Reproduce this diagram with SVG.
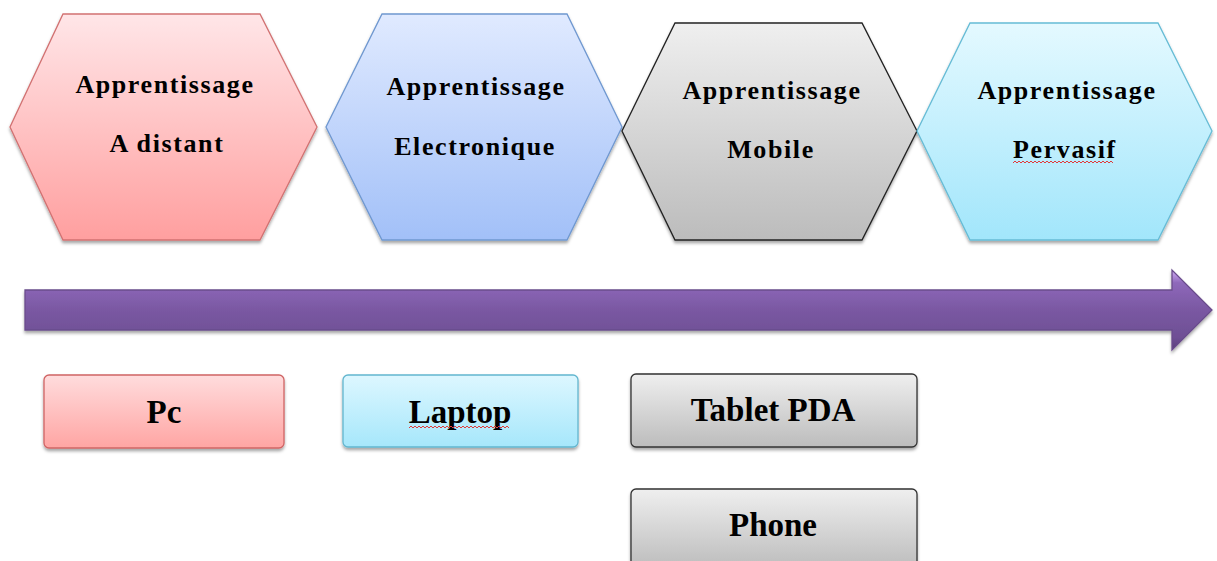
<svg xmlns="http://www.w3.org/2000/svg" width="1217" height="561" viewBox="0 0 1217 561">
  <defs>
    <linearGradient id="gRed" x1="0" y1="0" x2="0" y2="1">
      <stop offset="0" stop-color="#ffe6e8"/>
      <stop offset="1" stop-color="#ff9f9f"/>
    </linearGradient>
    <linearGradient id="gBlue" x1="0" y1="0" x2="0" y2="1">
      <stop offset="0" stop-color="#e0eaff"/>
      <stop offset="1" stop-color="#a2c0f8"/>
    </linearGradient>
    <linearGradient id="gGray" x1="0" y1="0" x2="0" y2="1">
      <stop offset="0" stop-color="#efefef"/>
      <stop offset="1" stop-color="#bcbcbc"/>
    </linearGradient>
    <linearGradient id="gCyan" x1="0" y1="0" x2="0" y2="1">
      <stop offset="0" stop-color="#e4f9ff"/>
      <stop offset="1" stop-color="#a2e6fb"/>
    </linearGradient>
    <linearGradient id="gPink" x1="0" y1="0" x2="0" y2="1">
      <stop offset="0" stop-color="#ffdcdd"/>
      <stop offset="1" stop-color="#ffa5a3"/>
    </linearGradient>
    <linearGradient id="gSky" x1="0" y1="0" x2="0" y2="1">
      <stop offset="0" stop-color="#ddf7ff"/>
      <stop offset="1" stop-color="#a6e7fb"/>
    </linearGradient>
    <linearGradient id="gArrow" x1="0" y1="0" x2="0" y2="1">
      <stop offset="0" stop-color="#d2acf6"/>
      <stop offset="0.16" stop-color="#8e68ba"/>
      <stop offset="0.5" stop-color="#7a58a2"/>
      <stop offset="0.85" stop-color="#6e4f94"/>
      <stop offset="1" stop-color="#5a3f7a"/>
    </linearGradient>
    <filter id="shadow" x="-5%" y="-5%" width="110%" height="120%">
      <feDropShadow dx="0" dy="2.5" stdDeviation="1.8" flood-color="#000" flood-opacity="0.35"/>
    </filter>
  </defs>
  <style>
    .hex-label { font-family: "Liberation Serif", "Times New Roman", serif; font-weight: bold; font-size: 26px; letter-spacing: 1.6px; fill: #000; text-anchor: middle; }
    .box-label { font-family: "Liberation Serif", "Times New Roman", serif; font-weight: bold; font-size: 33px; fill: #000; text-anchor: middle; }
    .squiggle { fill: none; stroke: #e03a3a; stroke-width: 1; }
    .shape { stroke-width: 1.3; filter: url(#shadow); }
  </style>

  <!-- timeline arrow -->
  <g id="connectors">
    <path class="shape" d="M25,290 H1172 V270 L1212,310 L1172,350 V330 H25 Z" fill="url(#gArrow)" stroke="#6a4c8c" stroke-width="0.8"/>
  </g>

  <!-- learning stages -->
  <g id="stage-distance">
    <polygon class="shape" points="63,14 260,14 317,127 260,240 63,240 10,127" fill="url(#gRed)" stroke="#d27272"/>
    <text class="hex-label" x="165" y="93">Apprentissage</text>
    <text class="hex-label" x="167" y="152">A distant</text>
  </g>
  <g id="stage-electronic">
    <polygon class="shape" points="382,14 567,14 622,127 567,240 382,240 326,127" fill="url(#gBlue)" stroke="#6f98d0"/>
    <text class="hex-label" x="476" y="95">Apprentissage</text>
    <text class="hex-label" x="475" y="155">Electronique</text>
  </g>
  <g id="stage-mobile">
    <polygon class="shape" points="675,23 862,23 917,131 862,240 675,240 622,131" fill="url(#gGray)" stroke="#222"/>
    <text class="hex-label" x="772" y="99">Apprentissage</text>
    <text class="hex-label" x="771" y="158">Mobile</text>
  </g>
  <g id="stage-pervasive">
    <polygon class="shape" points="970,23 1158,23 1212,131 1158,240 970,240 917,131" fill="url(#gCyan)" stroke="#66bcd6"/>
    <text class="hex-label" x="1067" y="99">Apprentissage</text>
    <text class="hex-label" x="1065" y="158">Pervasif</text>
    <path class="squiggle" d="M1013,163 l2,-2 l2,2 l2,-2 l2,2 l2,-2 l2,2 l2,-2 l2,2 l2,-2 l2,2 l2,-2 l2,2 l2,-2 l2,2 l2,-2 l2,2 l2,-2 l2,2 l2,-2 l2,2 l2,-2 l2,2 l2,-2 l2,2 l2,-2 l2,2 l2,-2 l2,2 l2,-2 l2,2 l2,-2 l2,2 l2,-2 l2,2 l2,-2 l2,2 l2,-2 l2,2 l2,-2 l2,2 l2,-2 l2,2 l2,-2 l2,2 l2,-2 l2,2 l2,-2 l2,2 l2,-2 l2,2"/>
  </g>

  <!-- devices -->
  <g id="device-pc">
    <rect class="shape" x="44" y="375" width="240" height="73" rx="5" fill="url(#gPink)" stroke="#d06464"/>
    <text class="box-label" x="164" y="423">Pc</text>
  </g>
  <g id="device-laptop">
    <rect class="shape" x="343" y="375" width="235" height="72" rx="5" fill="url(#gSky)" stroke="#62b6cf"/>
    <text class="box-label" x="460" y="423">Laptop</text>
    <path class="squiggle" d="M409,428 l2,-2 l2,2 l2,-2 l2,2 l2,-2 l2,2 l2,-2 l2,2 l2,-2 l2,2 l2,-2 l2,2 l2,-2 l2,2 l2,-2 l2,2 l2,-2 l2,2 l2,-2 l2,2 l2,-2 l2,2 l2,-2 l2,2 l2,-2 l2,2 l2,-2 l2,2 l2,-2 l2,2 l2,-2 l2,2 l2,-2 l2,2 l2,-2 l2,2 l2,-2 l2,2 l2,-2 l2,2 l2,-2 l2,2 l2,-2 l2,2 l2,-2 l2,2 l2,-2 l2,2 l2,-2 l2,2"/>
  </g>
  <g id="device-tablet">
    <rect class="shape" x="631" y="374" width="286" height="73" rx="5" fill="url(#gGray)" stroke="#333"/>
    <text class="box-label" x="773" y="421">Tablet PDA</text>
  </g>
  <g id="device-phone">
    <rect class="shape" x="631" y="489" width="286" height="80" rx="5" fill="url(#gGray)" stroke="#333"/>
    <text class="box-label" x="773" y="536">Phone</text>
  </g>
</svg>
